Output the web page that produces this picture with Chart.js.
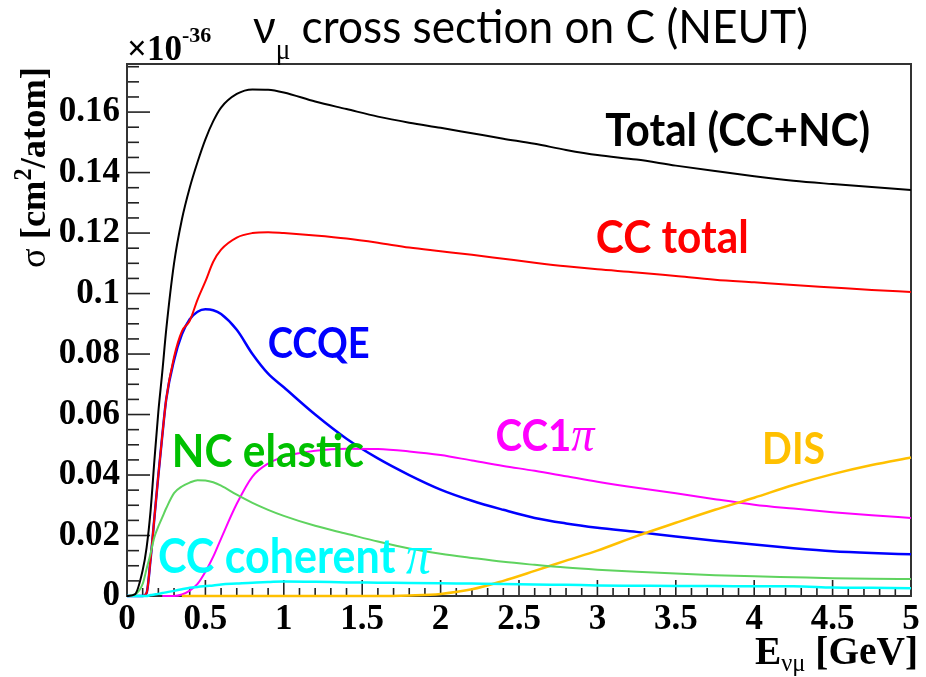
<!DOCTYPE html>
<html><head><meta charset="utf-8">
<script src="https://cdn.jsdelivr.net/npm/chart.js@4/dist/chart.umd.min.js"></script>
<style>html,body{margin:0;padding:0;background:#fff;}#wrap{width:926px;height:677px;}</style>
</head><body><div id="wrap"><canvas id="c" width="926" height="677"></canvas></div>
<script>
// ---- data (units of 1e-36 cm^2/atom vs neutrino energy in GeV) ----
const energy = [0,0.05,0.1,0.125,0.15,0.175,0.2,0.225,0.25,0.3,0.35,0.4,0.45,0.5,0.55,0.6,0.7,0.8,0.9,1.0,1.2,1.4,1.6,1.8,2.0,2.2,2.4,2.6,2.8,3.0,3.25,3.5,3.75,4.0,4.25,4.5,4.75,5.0];
const totalCCNC = [0,0.0005,0.0085,0.016,0.028,0.045,0.061,0.074,0.088,0.110,0.1245,0.135,0.1435,0.151,0.157,0.1615,0.166,0.1675,0.1674,0.1665,0.1635,0.1610,0.1585,0.1565,0.1548,0.1530,0.1512,0.1495,0.1475,0.1458,0.1443,0.1423,0.1405,0.1388,0.1373,0.1362,0.1352,0.1342];
const ccTotal = [0,0,0,0.001,0.012,0.026,0.040,0.053,0.065,0.079,0.0875,0.091,0.098,0.104,0.1105,0.1145,0.1185,0.1200,0.1203,0.1200,0.1192,0.1182,0.1168,0.1152,0.1140,0.1128,0.1115,0.1102,0.1090,0.1080,0.1070,0.1058,0.1046,0.1037,0.1028,0.1020,0.1012,0.1005];
const ccqe = [0,0,0,0.001,0.012,0.026,0.040,0.053,0.065,0.078,0.0865,0.0915,0.0940,0.0948,0.0945,0.0932,0.0880,0.0800,0.0735,0.0690,0.0600,0.0520,0.0455,0.0400,0.0352,0.0315,0.0285,0.0258,0.0240,0.0226,0.0212,0.0197,0.0183,0.0170,0.0158,0.0148,0.0142,0.0138];
const ncElastic = [0,0.0005,0.004,0.009,0.014,0.0195,0.023,0.026,0.029,0.034,0.0362,0.0375,0.0383,0.0382,0.0376,0.0365,0.0335,0.0308,0.0285,0.0265,0.0232,0.0206,0.0180,0.0157,0.0140,0.0126,0.0113,0.0103,0.0094,0.0087,0.0080,0.0074,0.0069,0.0065,0.0062,0.0059,0.0057,0.0056];
const cc1pi = [null,null,null,null,null,null,null,0,0,0,0.0005,0.0018,0.004,0.008,0.013,0.019,0.0305,0.0395,0.0438,0.0460,0.0480,0.0487,0.0486,0.0478,0.0466,0.0448,0.0430,0.0414,0.0396,0.0378,0.0358,0.0340,0.0320,0.0302,0.0289,0.0277,0.0267,0.0258];
const ccCoherentPi = [0,0,0,0,0.0003,0.0005,0.0007,0.001,0.0012,0.0017,0.0022,0.0027,0.0030,0.0033,0.0035,0.0038,0.0041,0.0044,0.0046,0.0048,0.0047,0.0045,0.0044,0.0043,0.0042,0.0041,0.0040,0.0038,0.0037,0.0035,0.0034,0.0033,0.0033,0.0032,0.0032,0.0028,0.0027,0.0026];
const dis = [null,null,null,null,null,null,null,null,null,null,0,0,0,0,0,0,0,0,0,0,0,0,0,0.0002,0.0007,0.0022,0.0050,0.0083,0.0117,0.0150,0.0198,0.0242,0.0285,0.0325,0.0367,0.0403,0.0433,0.0458];
const xTickValues = [0,0.5,1,1.5,2,2.5,3,3.5,4,4.5,5];
const yTickValues = [0,0.02,0.04,0.06,0.08,0.1,0.12,0.14,0.16];
const X_MAX = 5, Y_MAX = 0.1759;

// ---- styles ----
const SANS = 'Lato, "Open Sans", "DejaVu Sans", sans-serif';
const SERIF = '"Liberation Serif", "DejaVu Serif", serif';
const seriesDefs = [
  {label:'Total (CC+NC)', data: totalCCNC, color:'#000000', width:2},
  {label:'NC elastic', data: ncElastic, color:'#5fd35f', width:2},
  {label:'CC coherent π', data: ccCoherentPi, color:'#00ffff', width:2.5},
  {label:'DIS', data: dis, color:'#ffc000', width:2.5},
  {label:'CC1π', data: cc1pi, color:'#ff00ff', width:2},
  {label:'CC total', data: ccTotal, color:'#ff0000', width:2},
  {label:'CCQE', data: ccqe, color:'#0000ff', width:2.5}
];

const curveLabels = [
  {segs:[{t:'Total (CC+NC)', family:SANS, weight:700, size:40}], color:'#000000', e:3.05, v:0.1488, w:265},
  {segs:[{t:'CC total', family:SANS, weight:700, size:40}], color:'#ff0000', e:2.99, v:0.1134, w:153},
  {segs:[{t:'CCQE', family:SANS, weight:700, size:40}], color:'#0000ff', e:0.897, v:0.0787, w:102},
  {segs:[{t:'NC elastic', family:SANS, weight:700, size:40}], color:'#00c000', e:0.286, v:0.0426, w:192},
  {segs:[{t:'CC1', family:SANS, weight:700, size:40},{t:'π', family:SERIF, style:'italic', weight:400, size:46}], color:'#ff00ff', e:2.35, v:0.0479, w:99},
  {segs:[{t:'DIS', family:SANS, weight:700, size:40}], color:'#ffc000', e:4.05, v:0.0436, w:63},
  {segs:[{t:'CC coherent ', family:SANS, weight:700, size:40},{t:'π', family:SERIF, style:'italic', weight:400, size:46}], color:'#00ffff', e:0.197, v:0.0076, w:273}
];

function segFont(s,k){return `${s.style||'normal'} ${s.weight||400} ${(s.size*k).toFixed(2)}px ${s.family}`;}
function measureSegs(ctx,segs,k){let w=0;for(const s of segs){ctx.font=segFont(s,k);w+=ctx.measureText(s.t).width;}return w;}
function drawSegs(ctx,segs,x,y,k,color){let cx=x;for(const s of segs){ctx.font=segFont(s,k);ctx.fillStyle=s.color||color;ctx.fillText(s.t,cx,y+(s.dy||0)*k);cx+=ctx.measureText(s.t).width;}return cx;}

const decor = {
  id:'decor',
  beforeDatasetsDraw(chart){
    const {ctx, chartArea:a, scales:{x, y}} = chart;
    ctx.save();
    ctx.strokeStyle='#222'; ctx.lineWidth=1.6;
    for(let i=0;i<=Math.round(Y_MAX/0.005);i++){
      const v=i*0.005; if(v>Y_MAX) break;
      const py=y.getPixelForValue(v);
      const major = (i%4===0);
      ctx.beginPath(); ctx.moveTo(a.left,py); ctx.lineTo(a.left+(major?23:12),py); ctx.stroke();
    }
    for(let i=0;i<=50;i++){
      const px=x.getPixelForValue(i*0.1);
      const major=(i%5===0);
      ctx.beginPath(); ctx.moveTo(px,a.bottom); ctx.lineTo(px,a.bottom-(major?16:8)); ctx.stroke();
    }
    ctx.lineWidth=2; ctx.strokeStyle='#333';
    ctx.strokeRect(a.left,a.top,a.right-a.left,a.bottom-a.top);
    ctx.restore();
  },
  afterDraw(chart){
    const {ctx, scales:{x, y}} = chart;
    ctx.save();
    ctx.textBaseline='alphabetic'; ctx.textAlign='left';
    for(const L of curveLabels){
      const k = L.w/measureSegs(ctx,L.segs,1);
      ctx.save();
      ctx.translate(x.getPixelForValue(L.e),y.getPixelForValue(L.v));
      ctx.scale(1,1.1);
      drawSegs(ctx,L.segs,0,0,k,L.color);
      ctx.restore();
    }
    const titleSegs=[{t:'ν',family:SANS,weight:400,size:39},{t:'μ',family:SERIF,weight:400,size:24,dy:13},{t:' cross section on C (NEUT)',family:SANS,weight:400,size:39}];
    const tk = 555/measureSegs(ctx,titleSegs,1);
    ctx.save(); ctx.translate(253,43); ctx.scale(1,1.06);
    drawSegs(ctx,titleSegs,0,0,tk,'#000');
    ctx.restore();
    drawSegs(ctx,[{t:'×10',family:SERIF,weight:700,size:35},{t:'-36',family:SERIF,weight:700,size:22,dy:-18}],127,60,1,'#000');
    const xt=[{t:'E',family:SERIF,weight:700,size:37},{t:'νμ',family:SERIF,weight:400,size:23,dy:7},{t:' [GeV]',family:SERIF,weight:700,size:37}];
    const xk=163/measureSegs(ctx,xt,1);
    drawSegs(ctx,xt,755,664,xk,'#000');
    const yt=[{t:'σ',family:SERIF,weight:400,size:36},{t:' [cm',family:SERIF,weight:700,size:36},{t:'2',family:SERIF,weight:700,size:24,dy:-14},{t:'/atom]',family:SERIF,weight:700,size:36}];
    const yk=201/measureSegs(ctx,yt,1);
    ctx.translate(45,268); ctx.rotate(-Math.PI/2);
    drawSegs(ctx,yt,0,0,yk,'#000');
    ctx.restore();
  }
};

const tickFont={family:SERIF, weight:'bold', size:35};
new Chart(document.getElementById('c'),{
  type:'line',
  data:{datasets: seriesDefs.map(s=>({
    label:s.label,
    data: energy.map((e,i)=>({x:e,y:s.data[i]})),
    borderColor:s.color, backgroundColor:s.color, borderWidth:s.width,
    pointRadius:0, fill:false, cubicInterpolationMode:'monotone', spanGaps:false, clip:false
  }))},
  options:{
    responsive:false, animation:false, devicePixelRatio:1,
    layout:{padding:{left:0,top:64,right:15,bottom:0}},
    plugins:{legend:{display:false}, tooltip:{enabled:false}, title:{display:false}},
    scales:{
      x:{type:'linear', min:0, max:X_MAX,
        afterBuildTicks:s=>{s.ticks=xTickValues.map(v=>({value:v}));},
        afterFit:s=>{s.height=81;},
        ticks:{font:tickFont, color:'#000', padding:3, maxRotation:0, autoSkip:false, callback:v=>String(Number(v.toFixed(2)))},
        grid:{display:false, drawTicks:false}, border:{display:false}},
      y:{type:'linear', min:0, max:Y_MAX,
        afterBuildTicks:s=>{s.ticks=yTickValues.map(v=>({value:v}));},
        afterFit:s=>{s.width=127;},
        ticks:{font:tickFont, color:'#000', padding:7, autoSkip:false, callback:v=>String(Number(v.toFixed(2)))},
        grid:{display:false, drawTicks:false}, border:{display:false}}
    }
  },
  plugins:[decor]
});
</script></body></html>
